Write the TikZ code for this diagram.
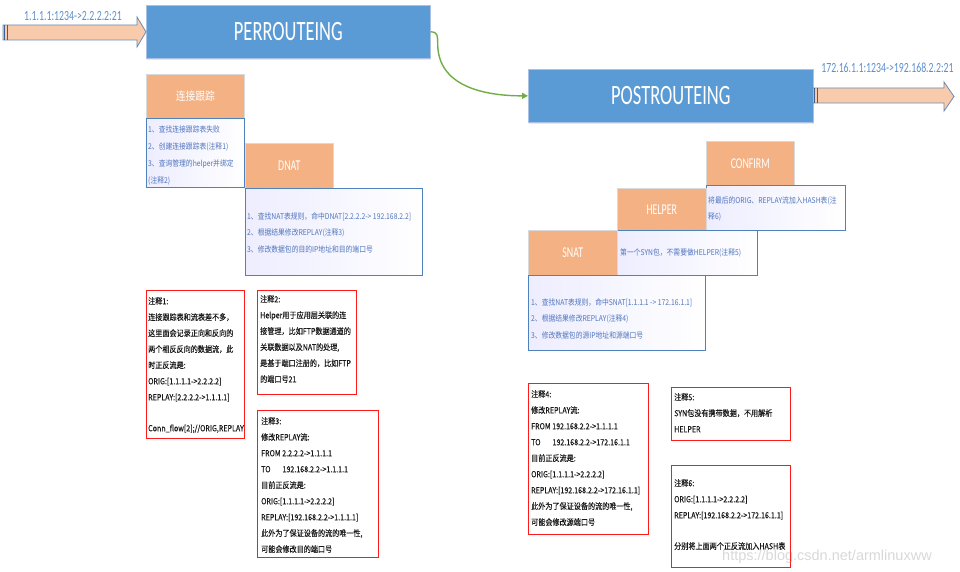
\documentclass[tikz,border=0pt]{standalone}
\usepackage{fontspec}
\usetikzlibrary{shadows,arrows.meta}
\newfontfamily\cjknote[FakeStretch=0.845,FakeBold=0.25]{Noto Sans CJK SC}
\newfontfamily\cjkbody[FakeStretch=0.85]{Noto Sans CJK SC}
\newfontfamily\ttlfont[FakeStretch=0.66]{Carlito}
\newfontfamily\labfont[FakeStretch=0.7]{Carlito}
\newfontfamily\wmfont{Liberation Sans}
\definecolor{bluefill}{HTML}{5B9BD5}
\definecolor{blueedge}{HTML}{A9C2E4}
\definecolor{orangefill}{HTML}{F4B183}
\definecolor{orangeedge}{HTML}{D9D9D9}
\definecolor{txtedge}{HTML}{4F81BD}
\definecolor{txtblue}{HTML}{5075BD}
\definecolor{labblue}{HTML}{5B8FD0}
\definecolor{arrowfill}{HTML}{F8CBAD}
\definecolor{arrowedge}{HTML}{6A8AB5}
\definecolor{arrowend}{HTML}{3F5F8F}
\definecolor{notered}{HTML}{FF1A1A}
\definecolor{flowgreen}{HTML}{70AD47}
\definecolor{notetext}{HTML}{1A1A1A}
\tikzset{
  bluebox/.style={draw=blueedge, line width=0.7pt, fill=bluefill, anchor=north west, inner sep=0pt,
     text=white, font=\ttlfont\fontsize{28}{30}\selectfont,
     drop shadow={opacity=0.18, shadow xshift=1pt, shadow yshift=-2pt}},
  orangebox/.style={draw=orangeedge, line width=0.6pt, fill=orangefill, anchor=north west, inner sep=0pt, text=white},
  orangelab/.style={font=\ttlfont\fontsize{15}{17}\selectfont},
  orangecjk/.style={font=\cjkbody\fontsize{11.5}{13}\selectfont},
  txtbox/.style={draw=txtedge, line width=0.8pt, left color=blue!7!white, right color=white, anchor=north west, inner sep=0pt},
  bluetext/.style={anchor=north west, inner sep=0pt, align=left, text=txtblue, font=\cjkbody\fontsize{8}{16.7}\selectfont},
  notebox/.style={draw=notered, line width=1.1pt, fill=white, anchor=north west, inner sep=0pt},
  notetxt/.style={anchor=north west, inner sep=0pt, align=left, text=notetext, font=\cjknote\fontsize{8.4}{16}\selectfont},
  arrowlab/.style={text=labblue, font=\labfont\fontsize{14}{16}\selectfont, inner sep=0pt},
  blockarrow/.style={fill=arrowfill, draw=arrowedge, line width=0.8pt, line join=miter},
  flow/.style={draw=flowgreen, line width=1.4pt, -{Triangle[length=6pt,width=6pt]}}
}
\begin{document}
\begin{tikzpicture}[x=1pt,y=-1pt]
\useasboundingbox (0,0) rectangle (960,572);
\fill[white] (0,0) rectangle (960,572);

% main stages
\node[bluebox, minimum width=284pt, minimum height=53pt] (pre) at (146,5) {PERROUTEING};
\node[bluebox, minimum width=285pt, minimum height=53pt] (post) at (528,69) {POSTROUTEING};

% block arrows
\draw[blockarrow] (3,25) -- (137,25) -- (137,17) -- (pre.west) -- (137,47) -- (137,40) -- (3,40) -- cycle;
\draw[arrowend, line width=1.2pt] (4.5,25) -- (4.5,40);
\draw[arrowend, line width=0.8pt] (7,25) -- (7,40);
\node[arrowlab] (inlab) at (73,16) {1.1.1.1:1234->2.2.2.2:21};

\draw[blockarrow] (813,88) -- (944,88) -- (944,82) -- (954,96.5) -- (944,111) -- (944,103) -- (813,103) -- cycle;
\draw[arrowend, line width=1.2pt] (814.5,88) -- (814.5,103);
\draw[arrowend, line width=0.8pt] (817,88) -- (817,103);
\node[arrowlab] (outlab) at (887.5,68) {172.16.1.1:1234->192.168.2.2:21};

% green flow
\draw[flow] (pre.east) .. controls +(7,0) and +(0,-8) .. ++(7,12) .. controls +(0,42) and +(-45,0) .. (post.west);

% PREROUTING side
\node[orangebox, orangecjk, minimum width=98pt, minimum height=44pt] (ct) at (146,74) {连接跟踪};
\node[txtbox, minimum width=98pt, minimum height=69pt] (ctbox) at (146,118) {};
\node[bluetext] (cttxt) at (148,126) {1、查找连接跟踪表失败\\2、创建连接跟踪表(注释1)\\3、查询管理的helper并绑定\\(注释2)};

\node[orangebox, orangelab, minimum width=88pt, minimum height=45pt] (dnat) at (245,143) {DNAT};
\node[txtbox, minimum width=177pt, minimum height=87pt] (dnatbox) at (245,188) {};
\node[bluetext] (dnattxt) at (247,212) {1、查找NAT表规则，命中DNAT[2.2.2.2-> 192.168.2.2]\\2、根据结果修改REPLAY(注释3)\\3、修改数据包的目的IP地址和目的端口号};

% POSTROUTING side
\node[orangebox, orangelab, minimum width=88pt, minimum height=44pt] (confirm) at (706,141) {CONFIRM};
\node[txtbox, minimum width=139pt, minimum height=45pt] (confirmbox) at (706,185) {};
\node[bluetext] (confirmtxt) at (708,197) {将最后的ORIG、REPLAY流加入HASH表(注\\[-1.5pt]释6)};

\node[orangebox, orangelab, minimum width=89pt, minimum height=42pt] (helper) at (617,188) {HELPER};
\node[txtbox, minimum width=140pt, minimum height=45pt] (helperbox) at (617,230) {};
\node[bluetext] (helpertxt) at (620,249) {第一个SYN包，不需要做HELPER(注释5)};

\node[orangebox, orangelab, minimum width=89pt, minimum height=45pt] (snat) at (528,230) {SNAT};
\node[txtbox, minimum width=177pt, minimum height=75pt] (snatbox) at (528,275) {};
\node[bluetext] (snattxt) at (531,298) {1、查找NAT表规则，命中SNAT[1.1.1.1 -> 172.16.1.1]\\2、根据结果修改REPLAY(注释4)\\3、修改数据包的源IP地址和源端口号};

% notes
\node[notebox, minimum width=98pt, minimum height=148pt] (n1) at (146,290) {};
\node[notetxt] (n1txt) at (148,297) {注释1:\\连接跟踪表和流表差不多，\\这里面会记录正向和反向的\\两个相反反向的数据流，此\\时正反流是:\\ORIG:[1.1.1.1->2.2.2.2]\\REPLAY:[2.2.2.2->1.1.1.1]\\[15pt]Conn\_flow[2];//ORIG,REPLAY};

\node[notebox, minimum width=99pt, minimum height=104pt] (n2) at (257,290) {};
\node[notetxt] (n2txt) at (260,295) {注释2:\\Helper用于应用层关联的连\\接管理，比如FTP数据通道的\\关联数据以及NAT的处理,\\是基于端口注册的，比如FTP\\的端口号21};

\node[notebox, minimum width=121pt, minimum height=147pt] (n3) at (257,410) {};
\node[notetxt] (n3txt) at (261,417) {注释3:\\修改REPLAY流:\\FROM 2.2.2.2->1.1.1.1\\TO\hspace{12pt}192.168.2.2->1.1.1.1\\目前正反流是:\\ORIG:[1.1.1.1->2.2.2.2]\\REPLAY:[192.168.2.2->1.1.1.1]\\此外为了保证设备的流的唯一性,\\可能会修改目的端口号};

\node[notebox, minimum width=120pt, minimum height=151pt] (n4) at (528,383) {};
\node[notetxt] (n4txt) at (531,390) {注释4:\\修改REPLAY流:\\FROM 192.168.2.2->1.1.1.1\\TO\hspace{12pt}192.168.2.2->172.16.1.1\\目前正反流是:\\ORIG:[1.1.1.1->2.2.2.2]\\REPLAY:[192.168.2.2->172.16.1.1]\\此外为了保证设备的流的唯一性,\\可能会修改源端口号};

\node[notebox, minimum width=119pt, minimum height=53pt] (n5) at (671,387) {};
\node[notetxt] (n5txt) at (674,393) {注释5:\\SYN包没有携带数据，不用解析\\HELPER};

\node[notebox, minimum width=119pt, minimum height=102pt] (n6) at (671,465) {};
\node[notetxt] (n6txt) at (674,479) {注释6:\\ORIG:[1.1.1.1->2.2.2.2]\\REPLAY:[192.168.2.2->172.16.1.1]\\[15pt]分别将上面两个正反流加入HASH表};

% watermark
\node[text=gray, opacity=0.3, font=\wmfont\fontsize{14.5}{16}\selectfont, anchor=west, inner sep=0pt] (wm) at (722,557) {https://blog.csdn.net/armlinuxww};
\end{tikzpicture}
\end{document}
